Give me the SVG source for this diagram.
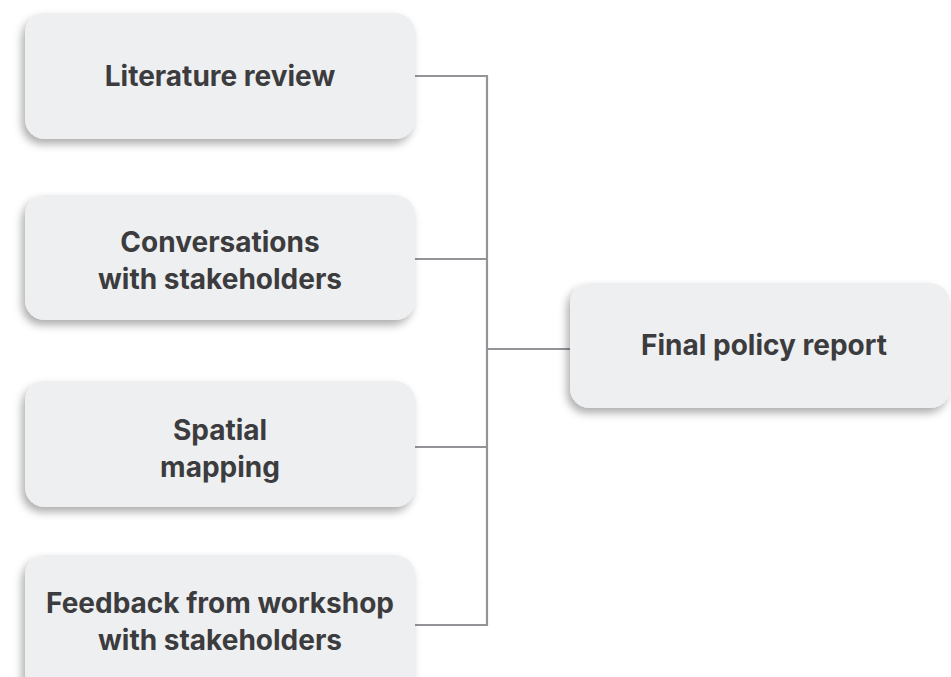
<svg xmlns="http://www.w3.org/2000/svg" width="951" height="677" viewBox="0 0 951 677">
  <defs>
    <filter id="shadow" x="-10%" y="-20%" width="120%" height="150%">
      <feDropShadow dx="-3" dy="5" stdDeviation="4" flood-color="#000" flood-opacity="0.32"/>
    </filter>
  </defs>
  <style>
    .box { fill: #eeeff1; filter: url(#shadow); }
    .label { font-family: Inter, "Noto Sans", "Liberation Sans", sans-serif; font-size: 28px; font-weight: 700; fill: #3c3c3e; text-anchor: middle; }
    .link { fill: none; stroke: #949498; stroke-width: 2.2; }
  </style>
  <rect width="951" height="677" fill="#ffffff"/>

  <!-- connectors: four sources joined by a trunk into the report -->
  <g id="connectors">
    <path class="link" d="M415 76 H487 V625 H415"/>
    <path class="link" d="M415 259 H487"/>
    <path class="link" d="M415 447 H487"/>
    <path class="link" d="M487 349 H570"/>
  </g>

  <g id="literature-review">
    <rect class="box" x="25" y="13" width="390" height="126" rx="20"/>
    <text class="label" x="220" y="86">Literature review</text>
  </g>

  <g id="conversations">
    <rect class="box" x="25" y="195" width="390" height="125" rx="20"/>
    <text class="label" x="220" y="252">Conversations</text>
    <text class="label" x="220" y="289">with stakeholders</text>
  </g>

  <g id="spatial-mapping">
    <rect class="box" x="25" y="381" width="390" height="126" rx="20"/>
    <text class="label" x="220" y="440">Spatial</text>
    <text class="label" x="220" y="477">mapping</text>
  </g>

  <g id="workshop-feedback">
    <rect class="box" x="25" y="555" width="390" height="140" rx="20"/>
    <text class="label" x="220" y="613">Feedback from workshop</text>
    <text class="label" x="220" y="650">with stakeholders</text>
  </g>

  <g id="final-report">
    <rect class="box" x="570" y="283" width="380" height="125" rx="20"/>
    <text class="label" x="764" y="355">Final policy report</text>
  </g>
</svg>
